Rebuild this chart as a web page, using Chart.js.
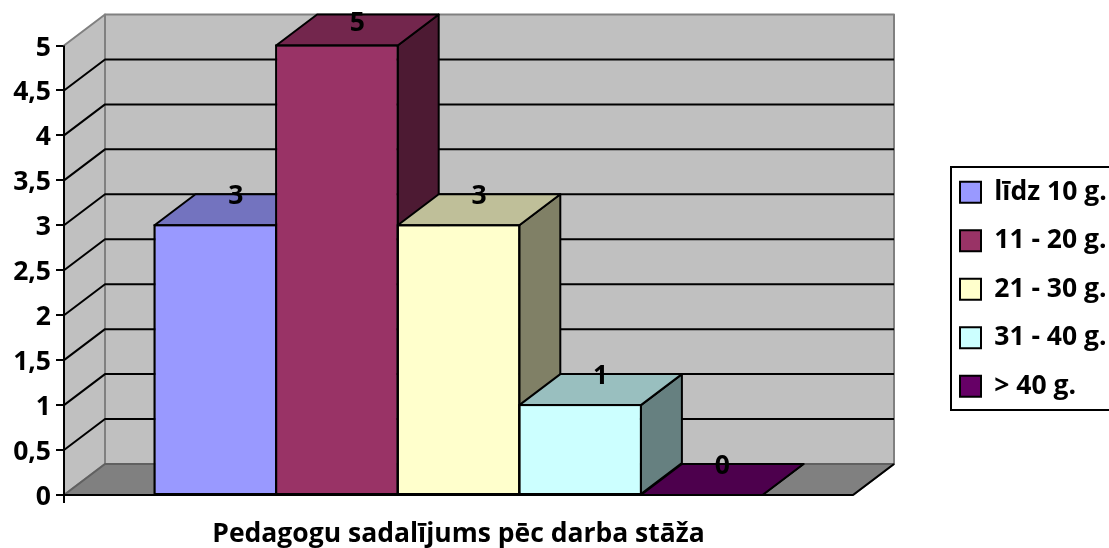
<!DOCTYPE html>
<html>
<head>
<meta charset="utf-8">
<script src="https://cdn.jsdelivr.net/npm/chart.js@4"></script>
<style>
  html, body { margin: 0; padding: 0; background: #fff; overflow: hidden; }
  canvas { display: block; }
</style>
</head>
<body>
<canvas id="stazChart" width="1109" height="548"></canvas>
<script>
const categories = [""];
const seriesNames = ["līdz 10 g.", "11 - 20 g.", "21 - 30 g.", "31 - 40 g.", "> 40 g."];
const seriesValues = [3, 5, 3, 1, 0];
const barColors = ["#9999ff", "#993366", "#ffffcc", "#ccffff", "#660066"];
const topColors = ["#7373bf", "#73264d", "#bfbf99", "#99bfbf", "#4d004d"];
const sideColors = ["#4d4d80", "#4d1a33", "#808066", "#668080", "#330033"];
const axisTitle = "Pedagogu sadalījums pēc darba stāža";

const FONT = { family: "Open Sans", weight: "bold", size: 26.5 };
const DEPTH_X = 41;
const DEPTH_Y = 31;

function poly(ctx, pts, fill, stroke, width) {
  ctx.beginPath();
  ctx.moveTo(pts[0][0], pts[0][1]);
  for (let i = 1; i < pts.length; i++) ctx.lineTo(pts[i][0], pts[i][1]);
  ctx.closePath();
  if (fill) { ctx.fillStyle = fill; ctx.fill(); }
  if (stroke) { ctx.strokeStyle = stroke; ctx.lineWidth = width; ctx.stroke(); }
}

// back wall, side wall, floor and the 3d faces of the bars
const box3d = {
  id: "box3d",
  beforeDraw(chart) {
    // tick labels sit a little under their ticks in the original
    chart.scales.y.getLabelItems().forEach(it => { it.options.translation[1] += 2.5; });
  },
  beforeDatasetsDraw(chart) {
    const { ctx, chartArea: a, scales: { y } } = chart;
    ctx.save();
    ctx.lineJoin = "round";
    const t = a.top, b = a.bottom, l = a.left, r = a.right;
    poly(ctx, [[l + DEPTH_X, t - DEPTH_Y], [r + DEPTH_X, t - DEPTH_Y], [r + DEPTH_X, b - DEPTH_Y], [l + DEPTH_X, b - DEPTH_Y]], "#c0c0c0", "#808080", 2);
    poly(ctx, [[l, t], [l + DEPTH_X, t - DEPTH_Y], [l + DEPTH_X, b - DEPTH_Y], [l, b]], "#c0c0c0", "#808080", 2);
    poly(ctx, [[l, b], [l + DEPTH_X, b - DEPTH_Y], [r + DEPTH_X, b - DEPTH_Y], [r, b]], "#808080", "#606060", 2);
    ctx.strokeStyle = "#000";
    ctx.lineWidth = 2;
    ctx.beginPath();
    ctx.moveTo(r, b);
    ctx.lineTo(r + DEPTH_X, b - DEPTH_Y);
    y.ticks.forEach(tick => {
      if (tick.value <= y.min || tick.value >= y.max) return;
      const py = y.getPixelForValue(tick.value);
      ctx.moveTo(l, py);
      ctx.lineTo(l + DEPTH_X, py - DEPTH_Y);
      ctx.lineTo(r + DEPTH_X, py - DEPTH_Y);
    });
    ctx.stroke();

    chart.data.datasets.forEach((ds, i) => {
      const bar = chart.getDatasetMeta(i).data[0];
      const half = bar.width / 2;
      const x0 = bar.x - half, x1 = bar.x + half;
      poly(ctx, [[x1, bar.y], [x1 + DEPTH_X, bar.y - DEPTH_Y], [x1 + DEPTH_X, bar.base - DEPTH_Y], [x1, bar.base]], sideColors[i], "#000", 2);
      poly(ctx, [[x0, bar.y], [x0 + DEPTH_X, bar.y - DEPTH_Y], [x1 + DEPTH_X, bar.y - DEPTH_Y], [x1, bar.y]], topColors[i], "#000", 2);
    });
    ctx.restore();
  },
  afterDatasetsDraw(chart) {
    // the library insets borders, so adjacent bars would double up: stroke on the edge instead
    const { ctx, chartArea: a } = chart;
    ctx.save();
    ctx.strokeStyle = "#000";
    ctx.lineWidth = 2;
    chart.data.datasets.forEach((ds, i) => {
      const bar = chart.getDatasetMeta(i).data[0];
      ctx.strokeRect(bar.x - bar.width / 2, bar.y, bar.width, bar.base - bar.y);
    });
    // walls and floor were painted over the axis lines, put them back on top
    ctx.beginPath();
    ctx.moveTo(a.left, a.top);
    ctx.lineTo(a.left, a.bottom + 8);
    ctx.moveTo(a.left, a.bottom);
    ctx.lineTo(a.right, a.bottom);
    ctx.stroke();
    ctx.restore();
  },
  afterDraw(chart) {
    const { ctx } = chart;
    ctx.save();
    // value labels sit on the back edge of each bar top, kept inside the plot
    ctx.font = `${FONT.weight} ${FONT.size}px ${FONT.family}`;
    ctx.fillStyle = "#000";
    ctx.textAlign = "center";
    ctx.textBaseline = "middle";
    chart.data.datasets.forEach((ds, i) => {
      const bar = chart.getDatasetMeta(i).data[0];
      ctx.fillText(String(ds.data[0]), bar.x + DEPTH_X / 2, Math.max(bar.y - DEPTH_Y + 2, 23));
    });
    // legend frame runs off the right edge like the original
    ctx.strokeStyle = "#000";
    ctx.lineWidth = 2;
    ctx.strokeRect(951, 167, 170, 243);
    ctx.restore();
  },
  afterLayout(chart) {
    const lg = chart.legend;
    lg.left = 960 - 22;
    lg.right = 1109;
    lg.top = 157;
    lg.bottom = 548;
    lg.width = lg.right - lg.left;
    lg.height = lg.bottom - lg.top;
  }
};

new Chart(document.getElementById("stazChart"), {
  type: "bar",
  data: {
    labels: categories,
    datasets: seriesNames.map((name, i) => ({
      label: name,
      data: [seriesValues[i]],
      backgroundColor: barColors[i],
      borderColor: "#000",
      borderWidth: 1,
      borderSkipped: false,
      categoryPercentage: 0.7706,
      barPercentage: 1
    }))
  },
  options: {
    responsive: false,
    maintainAspectRatio: false,
    animation: false,
    layout: { padding: { left: 0, top: 45.5, right: 256, bottom: 0 } },
    plugins: {
      legend: {
        position: "chartArea",
        align: "start",
        labels: {
          boxWidth: 21,
          boxHeight: 21,
          padding: 22,
          color: "#000",
          font: FONT,
          generateLabels: c => Chart.defaults.plugins.legend.labels.generateLabels(c).map(it => ({ ...it, lineWidth: 2 }))
        }
      },
      tooltip: { enabled: false }
    },
    scales: {
      x: {
        ticks: { display: false },
        grid: { display: false },
        border: { color: "#000", width: 2 },
        title: {
          display: true,
          text: axisTitle,
          color: "#000",
          font: FONT,
          padding: { top: 0, bottom: -2 }
        },
        afterFit: s => { s.height = 53; }
      },
      y: {
        min: 0,
        max: 5,
        ticks: {
          stepSize: 0.5,
          padding: 5,
          color: "#000",
          font: FONT,
          callback: v => String(v).replace(".", ",")
        },
        grid: { drawOnChartArea: false, color: "#000", lineWidth: 2, tickLength: 8 },
        border: { color: "#000", width: 2 },
        afterFit: s => { s.width = 64; }
      }
    }
  },
  plugins: [box3d]
});
</script>
</body>
</html>
